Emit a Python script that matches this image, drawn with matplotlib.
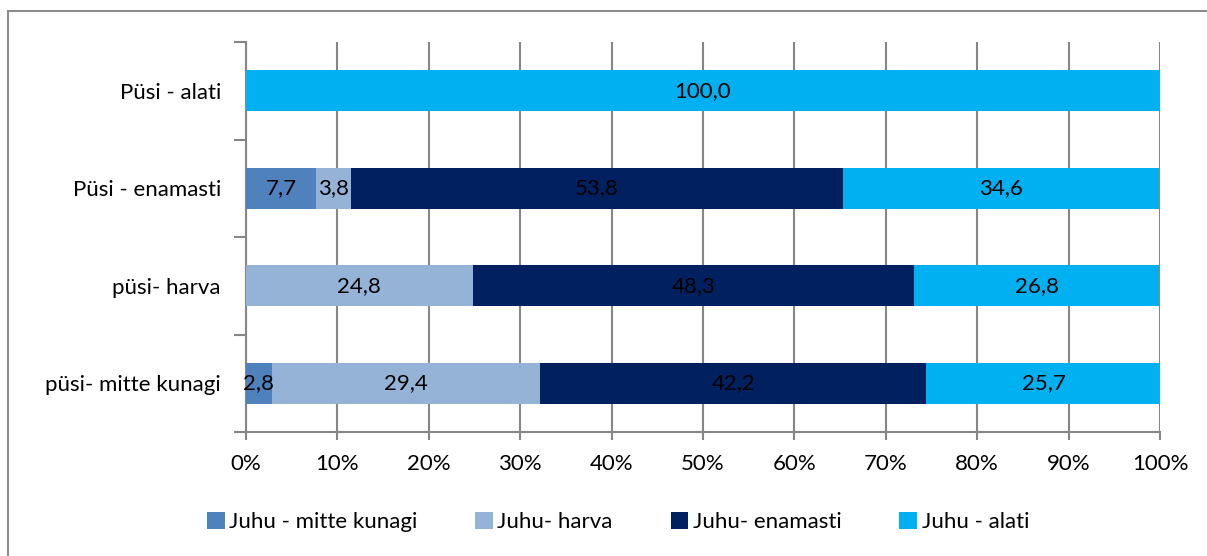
import matplotlib
matplotlib.use("Agg")
import matplotlib.pyplot as plt
from matplotlib.patches import Rectangle
import numpy as np

plt.rcParams['font.family'] = ['Lato', 'DejaVu Sans']

categories = ["Püsi - alati", "Püsi - enamasti", "püsi- harva", "püsi- mitte kunagi"]
series_names = ["Juhu - mitte kunagi", "Juhu- harva", "Juhu- enamasti", "Juhu - alati"]
mitte_kunagi = [0.0, 7.7, 0.0, 2.8]
harva = [0.0, 3.8, 24.8, 29.4]
enamasti = [0.0, 53.8, 48.3, 42.2]
alati = [100.0, 34.6, 26.8, 25.7]
colors = ["#4F81BD", "#95B3D7", "#002060", "#00B0F0"]
xticks = [0, 10, 20, 30, 40, 50, 60, 70, 80, 90, 100]

fig = plt.figure(figsize=(12.07, 5.56), dpi=100)
ax = fig.add_axes([246 / 1207, 1 - 432 / 556, (1160 - 246) / 1207, (432 - 42) / 556])

# outer chart border (cut by the image edge on the right and bottom)
fig.patches.append(Rectangle((8 / 1207, -0.1), 1.2, 1.1 - 11 / 556, transform=fig.transFigure,
                             fill=False, edgecolor="#8C8C8C", linewidth=1.5))

y = np.arange(len(categories))
left = np.zeros(len(categories))
for name, vals, c in zip(series_names, [mitte_kunagi, harva, enamasti, alati], colors):
    vals = np.array(vals)
    ax.barh(y, vals, left=left, height=0.42, color=c, label=name, zorder=3)
    for yi, l, v in zip(y, left, vals):
        if v > 0:
            ax.text(l + v / 2, yi, f"{v:.1f}".replace(".", ","), ha="center", va="center",
                    fontsize=16, color="black", zorder=4)
    left += vals

ax.set_xlim(0, 100)
ax.set_ylim(len(categories) - 0.5, -0.5)
ax.set_yticks(y)
ax.set_yticklabels(categories, fontsize=16)
ax.set_yticks(np.arange(-0.5, len(categories)), minor=True)
ax.tick_params(axis="y", which="major", length=0, pad=18)
ax.tick_params(axis="y", which="minor", length=9, color="#868686", width=1.5)
ax.set_xticks(xticks)
ax.set_xticklabels([f"{t}%" for t in xticks], fontsize=16)
ax.tick_params(axis="x", length=6, color="#868686", width=1.5, pad=10)
ax.grid(axis="x", color="#868686", linewidth=1.5, zorder=0)
for s in ["top", "right"]:
    ax.spines[s].set_visible(False)
for s in ["left", "bottom"]:
    ax.spines[s].set_color("#868686")
    ax.spines[s].set_linewidth(1.5)

fig.legend(loc="center", bbox_to_anchor=(0.512, 1 - 522 / 556), ncol=4, frameon=False,
           fontsize=16, handlelength=0.8, handleheight=0.8, handletextpad=0.2, columnspacing=2.6)

fig.savefig("out.png", dpi=100)
